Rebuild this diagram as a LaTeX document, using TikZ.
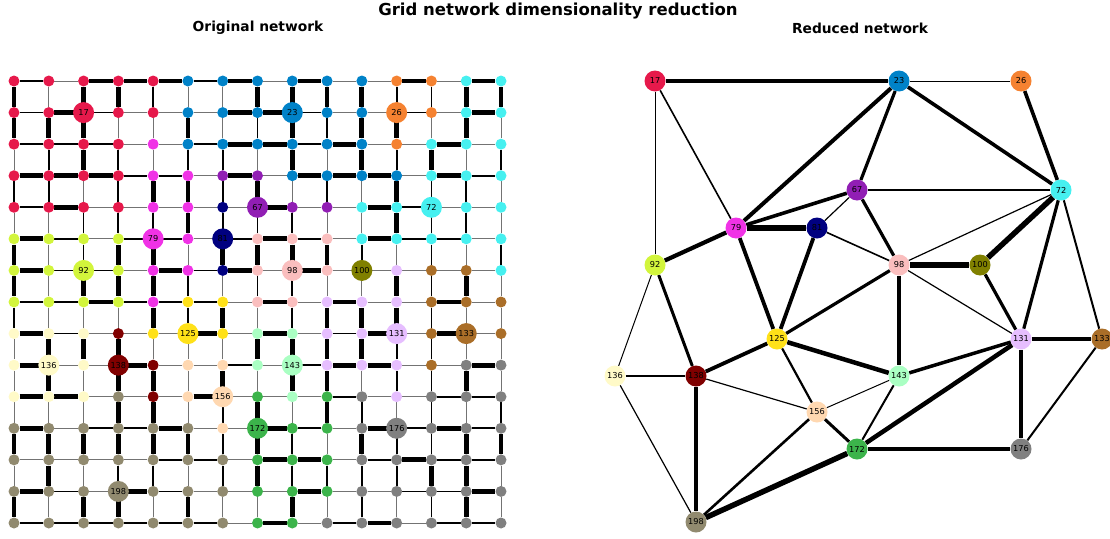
\documentclass[tikz,border=0pt]{standalone}
\usepackage{fontspec}
\setmainfont{DejaVu Sans}
\usetikzlibrary{backgrounds}

% cluster colours
\definecolor{cR}{HTML}{E6194B}
\definecolor{cB}{HTML}{0082C8}
\definecolor{cO}{HTML}{F58231}
\definecolor{cC}{HTML}{46F0F0}
\definecolor{cM}{HTML}{F032E6}
\definecolor{cP}{HTML}{911EB4}
\definecolor{cN}{HTML}{000080}
\definecolor{cY}{HTML}{D2F53C}
\definecolor{cK}{HTML}{FABEBE}
\definecolor{cL}{HTML}{808000}
\definecolor{cG}{HTML}{FFE119}
\definecolor{cV}{HTML}{E6BEFF}
\definecolor{cW}{HTML}{AA6E28}
\definecolor{cE}{HTML}{FFFAC8}
\definecolor{cD}{HTML}{800000}
\definecolor{cA}{HTML}{AAFFC3}
\definecolor{cF}{HTML}{FFD8B1}
\definecolor{cH}{HTML}{3CB44B}
\definecolor{cX}{HTML}{808080}
\definecolor{cT}{HTML}{918A6F}

\tikzset{
  cell/.style={circle, minimum size=11pt, inner sep=0pt},
  hub/.style={circle, minimum size=21pt, inner sep=0pt,
    font=\fontsize{8.2}{9}\selectfont},
  wire/.code={% 0 = weak, 1 = normal, 2 = strong grid link
    \ifcase#1\tikzset{line width=0.8pt, draw=black!55}%
    \or\tikzset{line width=1.8pt}%
    \or\tikzset{line width=4.8pt}\fi},
  heading/.style={font=\fontsize{13.8}{15}\selectfont\bfseries},
}

\begin{document}
\begin{tikzpicture}[x=1pt, y=-1pt]
  \useasboundingbox (0,0) rectangle (1110,538);

  % ----- titles -------------------------------------------------------------
  \node[font=\fontsize{16.5}{18}\selectfont\bfseries] (title) at (558,11)
    {Grid network dimensionality reduction};
  \node[heading] (orig) at (258,28) {Original network};
  \node[heading] (red)  at (860,28) {Reduced network};

  % ----- 15x15 grid, coloured by cluster -----------------------------------
  \foreach \row [count=\r from 0] in {
      {R,R,R,R,R,B,B,B,B,B,B,O,O,C,C},
      {R,R,R,R,R,B,B,B,B,B,B,O,O,C,C},
      {R,R,R,R,M,B,B,B,B,B,B,O,C,C,C},
      {R,R,R,R,M,M,P,P,B,B,B,B,C,C,C},
      {R,R,R,R,M,M,N,P,P,P,C,C,C,C,C},
      {Y,Y,Y,Y,M,M,N,K,K,K,C,C,C,C,C},
      {Y,Y,Y,Y,M,M,N,K,K,K,L,V,W,W,C},
      {Y,Y,Y,Y,M,G,G,K,K,V,V,V,W,W,W},
      {E,E,E,D,G,G,G,A,A,V,V,V,W,W,W},
      {E,E,E,D,D,F,F,A,A,V,V,V,W,X,X},
      {E,E,E,T,D,F,F,H,A,H,X,V,X,X,X},
      {T,T,T,T,T,T,F,H,H,H,X,X,X,X,X},
      {T,T,T,T,T,T,T,H,H,H,X,X,X,X,X},
      {T,T,T,T,T,T,T,H,H,H,X,X,X,X,X},
      {T,T,T,T,T,T,T,H,H,X,X,X,X,X,X}} {
    \foreach \col [count=\c from 0] in \row {
      \pgfmathtruncatemacro\i{\r*15+\c}
      \node[cell, fill=c\col] (g\i) at ({14+34.786*\c},{81+31.571*\r}) {};
    }
  }

  % cluster centres on the grid
  \foreach \id/\col in {17/R, 23/B, 26/O, 67/P, 72/C, 79/M, 81/N, 92/Y,
      98/K, 100/L, 125/G, 131/V, 133/W, 136/E, 138/D, 143/A, 156/F,
      172/H, 176/X, 198/T}
    \node[hub, fill=c\col] (h\id) at (g\id) {\id};

  \begin{pgfonlayer}{background}
    % horizontal links, one list per row
    \foreach \ws [count=\r from 0] in {
        {1,0,2,2,2,1,2,0,2,0,0,2,0,2},
        {1,2,1,0,0,0,2,2,1,0,0,1,0,2},
        {1,1,1,0,0,1,2,2,1,2,0,0,2,0},
        {2,2,2,1,1,0,2,0,2,2,2,0,2,1},
        {1,2,0,0,0,0,0,2,0,0,2,1,0,0},
        {2,1,0,1,1,0,1,2,1,0,2,1,1,0},
        {2,1,1,0,2,1,2,0,2,0,0,0,0,0},
        {1,1,2,1,1,1,0,2,0,2,0,0,2,0},
        {2,1,0,0,0,2,0,2,0,1,2,0,2,0},
        {2,0,0,2,0,0,1,0,1,2,2,0,0,2},
        {2,2,0,0,0,2,0,0,0,1,0,0,1,1},
        {2,0,1,1,2,0,0,2,1,0,2,1,2,1},
        {0,0,0,0,1,1,0,2,2,0,1,2,1,1},
        {2,1,0,2,1,0,0,0,2,0,0,1,1,2},
        {1,1,1,1,1,1,0,2,0,1,2,0,1,1}} {
      \foreach \w [count=\c from 0] in \ws {
        \pgfmathtruncatemacro\a{\r*15+\c}
        \pgfmathtruncatemacro\b{\a+1}
        \draw[wire=\w] (g\a) -- (g\b);
      }
    }
    % vertical links, one list per column
    \foreach \ws [count=\c from 0] in {
        {2,2,0,1,0,2,2,1,0,0,0,2,0,2},
        {0,2,1,1,0,0,0,0,2,2,0,2,2,0},
        {2,2,2,0,1,1,2,0,2,0,0,2,0,2},
        {2,0,1,1,1,2,2,0,2,2,2,2,1,2},
        {1,0,0,2,1,2,2,2,0,2,2,2,1,0},
        {0,2,1,2,2,0,1,1,0,0,0,2,0,2},
        {0,0,1,1,1,2,0,2,0,2,1,1,1,0},
        {2,1,0,2,1,2,1,0,2,0,2,2,2,0},
        {2,2,2,0,1,2,1,1,2,2,0,1,1,2},
        {2,1,0,1,0,2,0,2,2,2,2,0,1,0},
        {2,2,2,0,0,1,0,2,2,0,1,2,1,1},
        {1,2,1,2,2,0,2,2,1,1,0,1,1,0},
        {1,0,2,1,1,1,1,1,1,1,1,1,2,1},
        {2,2,0,1,1,0,2,0,0,2,0,2,2,2},
        {2,0,1,0,0,1,0,0,0,0,1,2,0,0}} {
      \foreach \w [count=\r from 0] in \ws {
        \pgfmathtruncatemacro\a{\r*15+\c}
        \pgfmathtruncatemacro\b{\a+15}
        \draw[wire=\w] (g\a) -- (g\b);
      }
    }
  \end{pgfonlayer}

  % ----- reduced network ----------------------------------------------------
  \foreach \id/\x/\y/\col in {17/655/81/R, 23/899/81/B, 26/1021/81/O,
      67/857/190/P, 72/1061/190/C, 79/736/228/M, 81/817/228/N,
      92/655/265/Y, 98/899/265/K, 100/980/265/L, 125/777/339/G,
      131/1021/339/V, 133/1102/339/W, 136/615/376/E, 138/696/376/D,
      143/899/376/A, 156/817/412/F, 172/857/449/H, 176/1021/449/X,
      198/696/522/T}
    \node[hub, fill=c\col] (r\id) at (\x,\y) {\id};

  \begin{pgfonlayer}{background}
    \foreach \a/\b/\w in {17/23/3.2, 23/26/1, 17/79/1.6, 17/92/1,
        23/79/4, 23/67/3.2, 23/72/3.6, 26/72/3.6, 67/72/2, 67/79/3.6,
        67/81/1.2, 67/98/3.2, 72/98/1.2, 72/100/5.5, 72/131/3.2,
        72/133/2, 79/81/5.5, 79/92/4.2, 79/125/3.8, 81/125/3.8,
        81/98/1.6, 98/100/5.5, 98/125/3.2, 98/131/1.2, 98/143/4,
        100/131/3.2, 92/136/1, 92/138/3, 125/138/3.8, 125/143/4.5,
        125/156/2.2, 136/138/1.6, 138/156/1.2, 138/198/3.8, 136/198/1.2,
        156/198/2.6, 156/172/3, 143/156/1, 172/198/5.5, 131/143/3.5,
        143/172/2, 131/172/4.5, 131/133/3.5, 131/176/3.5, 133/176/2,
        172/176/4}
      \draw[line width=\w pt] (r\a) -- (r\b);
  \end{pgfonlayer}

\end{tikzpicture}
\end{document}
